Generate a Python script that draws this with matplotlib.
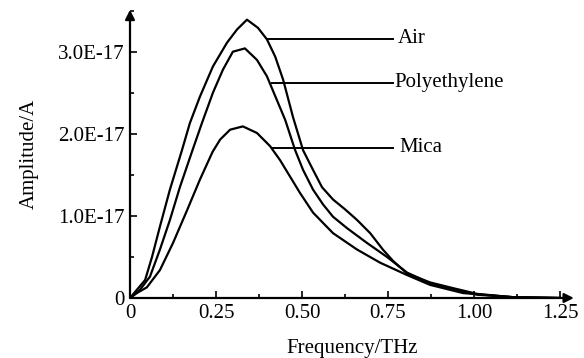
import matplotlib
matplotlib.use("Agg")
from matplotlib import pyplot as plt
from matplotlib.ticker import FuncFormatter, MultipleLocator

plt.rcParams['font.family'] = ['Liberation Serif', 'DejaVu Serif']

# Frequency (THz) and amplitude (units of 1E-17 A)
air_f = [0, 0.020, 0.044, 0.064, 0.087, 0.116, 0.151, 0.174, 0.203, 0.241, 0.282,
         0.311, 0.340, 0.372, 0.398, 0.422, 0.445, 0.474, 0.503, 0.532, 0.558,
         0.590, 0.625, 0.660, 0.698, 0.735, 0.765, 0.805, 0.872, 0.939, 1.009,
         1.113, 1.25]
air_a = [0, 0.10, 0.22, 0.50, 0.87, 1.32, 1.80, 2.13, 2.45, 2.82, 3.11,
         3.27, 3.39, 3.29, 3.15, 2.94, 2.66, 2.20, 1.80, 1.56, 1.35,
         1.20, 1.08, 0.95, 0.79, 0.59, 0.45, 0.30, 0.19, 0.12, 0.05,
         0.01, 0.0]

poly_f = [0, 0.029, 0.058, 0.087, 0.116, 0.145, 0.180, 0.209, 0.241, 0.270,
          0.299, 0.334, 0.369, 0.398, 0.427, 0.451, 0.480, 0.503, 0.532, 0.561,
          0.590, 0.631, 0.689, 0.747, 0.805, 0.872, 0.939, 1.009, 1.113, 1.25]
poly_a = [0, 0.10, 0.26, 0.59, 0.95, 1.35, 1.78, 2.13, 2.50, 2.78,
          3.00, 3.04, 2.90, 2.70, 2.41, 2.17, 1.80, 1.56, 1.32, 1.14,
          0.99, 0.85, 0.67, 0.50, 0.31, 0.18, 0.11, 0.04, 0.01, 0.0]

mica_f = [0, 0.020, 0.049, 0.087, 0.125, 0.166, 0.203, 0.240, 0.262, 0.291,
          0.328, 0.369, 0.407, 0.436, 0.465, 0.494, 0.532, 0.590, 0.660, 0.727,
          0.805, 0.872, 0.968, 1.113, 1.25]
mica_a = [0, 0.06, 0.13, 0.34, 0.67, 1.07, 1.44, 1.78, 1.93, 2.05,
          2.09, 2.01, 1.85, 1.68, 1.48, 1.28, 1.04, 0.79, 0.59, 0.43,
          0.28, 0.16, 0.06, 0.01, 0.0]

labels = ['Air', 'Polyethylene', 'Mica']
scale = 1e-17

fig = plt.figure(figsize=(5.84, 3.58), dpi=100)
ax = fig.add_axes([0.2226, 0.1676, 0.760, 0.805])

for f, a in [(air_f, air_a), (poly_f, poly_a), (mica_f, mica_a)]:
    ax.plot(f, [v * scale for v in a], color='black', lw=1.6,
            solid_joinstyle='round')

# leader lines with labels
leaders = [(0.401, 3.16, 0.779), (0.413, 2.62, 0.767), (0.413, 1.83, 0.782)]
for (x0, y, xt), name in zip(leaders, labels):
    ax.plot([x0, 0.765], [y * scale, y * scale], color='black', lw=1.4)
    ax.text(xt, y * scale, name, fontsize=15, va='center', ha='left')

ax.set_xlim(0, 1.29)
ax.set_ylim(0, 3.51e-17)

for s in ax.spines.values():
    s.set_visible(False)
for tip in [(0, 1), (1, 0)]:
    ax.annotate('', xy=tip, xytext=(0, 0), xycoords='axes fraction',
                arrowprops=dict(arrowstyle='-|>', lw=1.6, color='black',
                                mutation_scale=14, shrinkA=0, shrinkB=0))

ax.set_xticks([0, 0.25, 0.5, 0.75, 1.0, 1.25])
ax.set_yticks([0, 1e-17, 2e-17, 3e-17])
ax.xaxis.set_minor_locator(MultipleLocator(0.125))
ax.yaxis.set_minor_locator(MultipleLocator(0.5e-17))
ax.xaxis.set_major_formatter(FuncFormatter(lambda v, p: '0' if v == 0 else f'{v:.2f}'))
ax.yaxis.set_major_formatter(FuncFormatter(
    lambda v, p: '0' if abs(v) < 1e-30 else f'{v / scale:.1f}E-17'))
ax.tick_params(which='both', direction='in', labelsize=15, width=1.2)
ax.tick_params(which='major', length=5)
ax.tick_params(which='minor', length=3)
ax.tick_params(axis='x', pad=4)
ax.tick_params(axis='y', pad=4)

ax.set_xlabel('Frequency/THz', fontsize=15, labelpad=12)
ax.set_ylabel('Amplitude/A', fontsize=15, labelpad=14)

plt.savefig('out.png', dpi=100)
plt.close()
